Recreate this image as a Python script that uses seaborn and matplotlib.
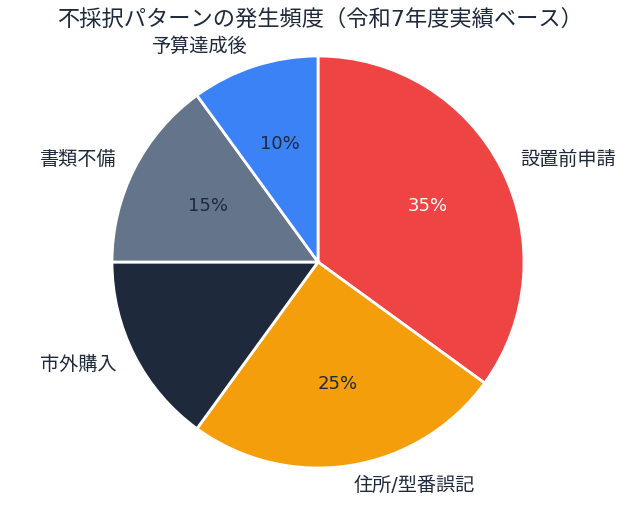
import matplotlib
matplotlib.use("Agg")
import matplotlib.pyplot as plt
import seaborn as sns

# データ
categories = ['設置前申請', '住所/型番誤記', '市外購入', '書類不備', '予算達成後']
shares = [35, 25, 15, 15, 10]
colors = ['#ef4444', '#f59e0b', '#1e293b', '#64748b', '#3b82f6']
pct_colors = ['#ffffff', '#1e293b', '#1e293b', '#1e293b', '#1e293b']
title = '不採択パターンの発生頻度（令和7年度実績ベース）'

sns.set_theme(style='white')
plt.rcParams['font.family'] = ['DejaVu Sans', 'Noto Sans CJK JP']

W, H = 640, 507
R = 206          # 円の半径(px)
cx, cy = 318, 245  # 中心(px, 下から)
L = 1.3

fig = plt.figure(figsize=(W / 100, H / 100), dpi=100)
size = 2 * L * R
ax = fig.add_axes([(cx - size / 2) / W, (cy - size / 2) / H, size / W, size / H])

wedges, texts, autotexts = ax.pie(
    shares, labels=categories, colors=colors, startangle=90, counterclock=False,
    autopct='%1.0f%%', pctdistance=0.6, labeldistance=1.1,
    wedgeprops=dict(edgecolor='white', linewidth=2),
    textprops=dict(fontsize=13.8, color='#1e293b'))

for t, c in zip(autotexts, pct_colors):
    t.set_color(c)
    t.set_fontsize(13)

ax.set_xlim(-L, L)
ax.set_ylim(-L, L)
ax.set_aspect('equal')
ax.axis('off')

fig.text(0.5, 1 - 19 / H, title, ha='center', va='center', fontsize=16, color='#1e293b')

fig.savefig('out.png', dpi=100)
